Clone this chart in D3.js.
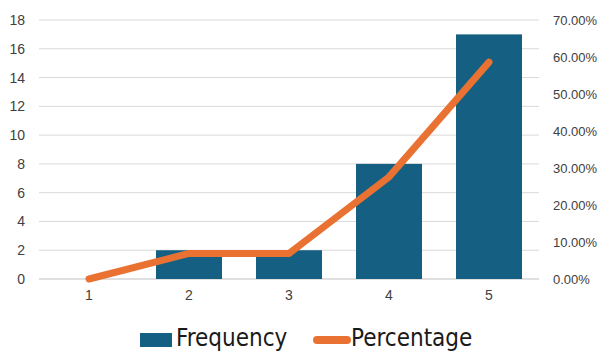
<!DOCTYPE html>
<html>
<head>
<meta charset="utf-8">
<script src="https://cdn.jsdelivr.net/npm/d3@7"></script>
<style>
  html, body { margin: 0; padding: 0; background: #fff; }
  svg { display: block; }
  .tick text { font-family: "Liberation Sans", Arial, sans-serif; font-size: 14px; fill: #404040; }
  .right .tick text { font-size: 13px; }
</style>
</head>
<body>
<svg id="chart" width="597" height="351"></svg>
<script>
// Frequency table and running share
const categories = ["1", "2", "3", "4", "5"];
const frequency = [0, 2, 2, 8, 17];
const percentage = [0, 0.069, 0.069, 0.2759, 0.5862];
const leftTicks = [0, 2, 4, 6, 8, 10, 12, 14, 16, 18];
const rightTicks = [0, 0.1, 0.2, 0.3, 0.4, 0.5, 0.6, 0.7];
const seriesNames = ["Frequency", "Percentage"];

const barColor = "#156082";
const lineColor = "#E97132";

const svg = d3.select("#chart");
const plot = { left: 39, right: 539, top: 20, bottom: 279 };

const x = d3.scaleBand().domain(categories).range([plot.left, plot.right]).paddingInner(0.34).paddingOuter(0.17);
const yL = d3.scaleLinear().domain([0, 18]).range([plot.bottom, plot.top]);
const yR = d3.scaleLinear().domain([0, 0.7]).range([plot.bottom, plot.top]);

// gridlines
svg.append("g").selectAll("line").data(leftTicks).join("line")
  .attr("x1", plot.left).attr("x2", plot.right)
  .attr("y1", d => yL(d)).attr("y2", d => yL(d))
  .attr("stroke", d => d === 0 ? "#bfbfbf" : "#d9d9d9").attr("stroke-width", 1);

// left axis
const gL = svg.append("g").attr("transform", `translate(${plot.left - 14},0)`)
  .call(d3.axisLeft(yL).tickValues(leftTicks).tickSize(0).tickPadding(0));
gL.select(".domain").remove();

// right axis
const gR = svg.append("g").attr("class", "right").attr("transform", `translate(${plot.right + 14},0)`)
  .call(d3.axisRight(yR).tickValues(rightTicks).tickSize(0).tickPadding(0).tickFormat(d3.format(".2%")));
gR.select(".domain").remove();

// category axis
const gX = svg.append("g").attr("transform", `translate(0,${plot.bottom + 7})`)
  .call(d3.axisBottom(x).tickSize(0).tickPadding(4));
gX.select(".domain").remove();

// bars
svg.append("g").selectAll("rect").data(categories).join("rect")
  .attr("x", d => x(d)).attr("width", x.bandwidth())
  .attr("y", (d, i) => yL(frequency[i]))
  .attr("height", (d, i) => yL(0) - yL(frequency[i]))
  .attr("fill", barColor);

// percentage line
const line = d3.line()
  .x((d, i) => x(categories[i]) + x.bandwidth() / 2)
  .y(d => yR(d));
svg.append("path").datum(percentage)
  .attr("d", line).attr("fill", "none")
  .attr("stroke", lineColor).attr("stroke-width", 7)
  .attr("stroke-linecap", "round").attr("stroke-linejoin", "round");

// legend
const legend = svg.append("g").attr("font-family", "'DejaVu Sans Condensed', 'DejaVu Sans', sans-serif")
  .attr("font-size", 24).attr("fill", "#1a1a1a");
legend.append("rect").attr("x", 140).attr("y", 333).attr("width", 32).attr("height", 14).attr("fill", barColor);
legend.append("text").attr("x", 176).attr("y", 346).text(seriesNames[0]);
legend.append("line").attr("x1", 317).attr("x2", 347).attr("y1", 340).attr("y2", 340)
  .attr("stroke", lineColor).attr("stroke-width", 8).attr("stroke-linecap", "round");
legend.append("text").attr("x", 351).attr("y", 346).text(seriesNames[1]);
</script>
</body>
</html>
